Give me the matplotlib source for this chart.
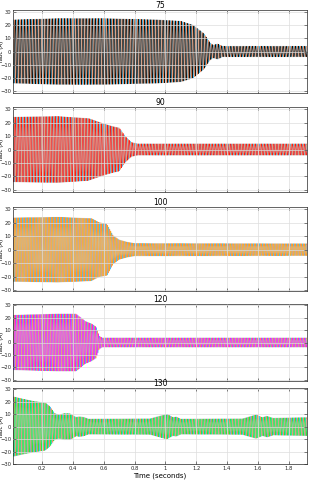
import numpy as np
import matplotlib
matplotlib.use("Agg")
import matplotlib.pyplot as plt

# panel titles
titles = ["75", "90", "100", "120", "130"]

# envelope of the phase currents (A) at given times (s)
env_t_75 = [0.01, 0.30, 0.60, 0.95, 1.10, 1.18, 1.25, 1.29, 1.31, 1.34, 1.37, 1.92]
env_a_75 = [24.0, 25.0, 25.0, 24.0, 23.0, 20.0, 13.5, 6.5, 4.8, 5.8, 4.0, 4.0]

env_t_90 = [0.01, 0.30, 0.50, 0.60, 0.66, 0.70, 0.74, 0.78, 0.82, 1.92]
env_a_90 = [24.0, 24.5, 23.0, 19.0, 17.0, 16.0, 9.5, 5.2, 4.2, 4.2]

env_t_100 = [0.01, 0.30, 0.52, 0.57, 0.62, 0.66, 0.70, 0.75, 0.80, 1.92]
env_a_100 = [23.5, 24.0, 23.0, 20.0, 19.0, 10.5, 7.2, 5.6, 4.6, 4.4]

env_t_120 = [0.01, 0.30, 0.42, 0.48, 0.52, 0.55, 0.57, 0.59, 1.92]
env_a_120 = [22.0, 23.0, 23.0, 17.0, 15.0, 12.5, 5.2, 3.7, 3.7]

env_t_130 = [0.01, 0.08, 0.14, 0.22, 0.25, 0.28, 0.31, 0.34, 0.38, 0.42, 0.44, 0.47, 0.50,
             0.90, 1.01, 1.05, 1.07, 1.10, 1.50, 1.59, 1.63, 1.66, 1.70, 1.92]
env_a_130 = [24.0, 22.0, 20.5, 19.0, 16.0, 10.5, 9.5, 10.5, 10.5, 7.5, 8.0, 7.5, 6.1,
             6.3, 10.0, 7.3, 7.8, 6.1, 6.3, 9.5, 7.3, 8.4, 6.8, 7.3]

envelopes = [(env_t_75, env_a_75), (env_t_90, env_a_90), (env_t_100, env_a_100),
             (env_t_120, env_a_120), (env_t_130, env_a_130)]

# highlight colour of phase a in each panel; phases b and c keep blue / orange
phase_a_colors = ["#111111", "#F21E1E", "#F5A623", "#F21EF2", "#22E84A"]
blue = "#4DBEEE"
orange = "#F4905F"

f_grid = 50.0
t = np.arange(0.01, 1.92, 1 / 6000)

# axes boxes in pixels (top, bottom) on a 316x480 canvas
boxes = [(10, 93), (107, 192), (207, 291), (304, 381), (388, 464)]
ylims = [(-31.5, 31.5), (-31.5, 31.5), (-30.5, 31.5), (-31, 31), (-26, 31)]
left, right = 13, 307

fig = plt.figure(figsize=(3.16, 4.8), dpi=100)

for i, (title, (et, ea)) in enumerate(zip(titles, envelopes)):
    top, bot = boxes[i]
    ax = fig.add_axes([left / 316, 1 - bot / 480, (right - left) / 316, (bot - top) / 480])
    amp = np.interp(t, et, ea)
    w = 2 * np.pi * f_grid * t
    ax.plot(t, amp * np.sin(w - 2 * np.pi / 3), color=blue, lw=0.5)
    ax.plot(t, amp * np.sin(w + 2 * np.pi / 3), color=orange, lw=0.5)
    ax.plot(t, amp * np.sin(w), color=phase_a_colors[i], lw=0.5)

    ax.set_xlim(0.01, 1.92)
    ax.set_ylim(*ylims[i])
    ax.set_yticks([-30, -20, -10, 0, 10, 20, 30])
    ax.set_xticks([0.2, 0.4, 0.6, 0.8, 1.0, 1.2, 1.4, 1.6, 1.8])
    ax.set_xticklabels(["0.2", "0.4", "0.6", "0.8", "1", "1.2", "1.4", "1.6", "1.8"])
    ax.grid(True, color="#DDDDDD", lw=0.5)
    ax.set_axisbelow(False)
    ax.tick_params(direction="in", length=2, width=0.4, labelsize=3.8, pad=1.2,
                   top=True, right=True, colors="#262626")
    for s in ax.spines.values():
        s.set_linewidth(0.5)
        s.set_color("#262626")
    ax.set_title(title, fontsize=5.5, pad=1.5)
    ax.set_ylabel("iabc (A)", fontsize=4)
    ax.yaxis.set_label_coords(-0.031, 0.5)
    if i < 4:
        ax.tick_params(labelbottom=False)
    else:
        ax.set_xlabel("Time (seconds)", fontsize=5, labelpad=1)

fig.savefig("out.png", dpi=100)
